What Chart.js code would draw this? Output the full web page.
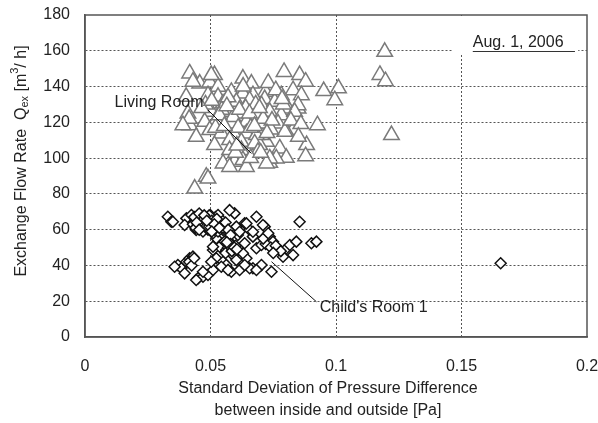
<!DOCTYPE html>
<html><head><meta charset="utf-8">
<script src="https://cdn.jsdelivr.net/npm/chart.js@4"></script>
<style>html,body{margin:0;padding:0;background:#fff}#wrap{width:598px;height:423px}</style>
</head><body><div id="wrap"><canvas id="c" width="598" height="423"></canvas></div>
<script>
const xTickLabels = ['0','0.05','0.1','0.15','0.2'];
const yTickValues = [0,20,40,60,80,100,120,140,160,180];
const seriesNames = ['Living Room', "Child's Room 1"];
const livingX = [0.1194,0.1175,0.1197,0.1221,0.101,0.0951,0.0995,0.0926,0.0883,0.0879,0.0793,0.0855,0.0879,0.0829,0.0862,0.0782,0.0719,0.0849,0.0802,0.0782,0.0829,0.0802,0.0723,0.0776,0.0802,0.0736,0.0762,0.0703,0.0696,0.0417,0.0457,0.0497,0.0516,0.053,0.0629,0.0663,0.049,0.053,0.0583,0.0629,0.0669,0.0716,0.055,0.0603,0.0656,0.0703,0.0756,0.0809,0.0849,0.041,0.0503,0.0563,0.0623,0.0689,0.0736,0.0782,0.0835,0.0417,0.0477,0.0523,0.0583,0.0643,0.0703,0.0769,0.0796,0.0443,0.0497,0.0543,0.0596,0.0643,0.0683,0.0516,0.0576,0.0623,0.0676,0.0576,0.0623,0.0689,0.0736,0.055,0.0596,0.0629,0.0643,0.0576,0.0723,0.0483,0.049,0.0437,0.043,0.0403,0.0415,0.039,0.0503,0.0545,0.059,0.061,0.066,0.071,0.074,0.057,0.064,0.068,0.048,0.052,0.063,0.073,0.076,0.079,0.082,0.086,0.085,0.06,0.066,0.07,0.0465,0.0505,0.0535,0.0565,0.0615,0.0655,0.0695,0.0745,0.0785,0.0555,0.0605,0.0675,0.0725];
const livingY = [159.4,146.5,143,112.9,139,137.5,132.4,118.4,107.3,101.1,148.2,146.4,142.7,138,135.2,135.2,137,127.7,126.8,120.3,115.7,114.7,109.1,105.4,100.2,97.4,99.8,112.9,107.3,147.3,141.7,142.3,146.4,139.9,144.5,141.7,135.2,134.3,137,136.1,135.2,133,130.5,131.5,132.4,129.6,131.5,127.7,129.6,124.9,125.9,125.9,124.9,124,125.9,124,125.9,118.4,120.3,121.2,119.4,120.3,119.4,119.4,114.7,111.9,115.7,113.8,112.9,113.8,112.9,107.3,110.1,109.1,108.2,104.5,104.5,103.5,99.8,97,97.9,98.9,95.1,95.1,97,89.6,88.6,83,142.7,134.3,122,118.4,146.4,127,123,117,117,122,116,134,128,130,130,117,140,142,138,130,121,119,112,103,100,103,128,132,124,129,127,125,128,121,133,118,107,118,114];
const childX = [0.033,0.0344,0.0404,0.0424,0.0397,0.0443,0.037,0.0384,0.0404,0.0417,0.043,0.0397,0.045,0.047,0.049,0.051,0.051,0.0536,0.0563,0.0589,0.0523,0.055,0.0583,0.0616,0.0643,0.0596,0.0576,0.0636,0.0656,0.0683,0.0603,0.0609,0.0669,0.0523,0.055,0.0589,0.0629,0.0563,0.0669,0.0703,0.044,0.045,0.046,0.047,0.048,0.049,0.05,0.051,0.052,0.053,0.046,0.047,0.049,0.051,0.053,0.055,0.054,0.056,0.057,0.043,0.048,0.05,0.052,0.045,0.058,0.047,0.05,0.044,0.035,0.053,0.0643,0.0716,0.0855,0.0669,0.0616,0.0736,0.051,0.0556,0.0583,0.0636,0.0683,0.0703,0.0749,0.0763,0.0796,0.0816,0.0842,0.0829,0.0789,0.0902,0.0922,0.0603,0.0503,0.0357,0.047,0.0443,0.0543,0.057,0.0656,0.0683,0.0743,0.0636,0.0709,0.1656,0.072,0.074,0.076,0.078,0.075,0.071,0.073,0.057,0.058,0.056,0.059,0.06,0.0435,0.0455,0.0465,0.0475,0.0485,0.0495,0.0505,0.0515,0.0525,0.0445,0.0475,0.0495,0.0515,0.0455,0.0485,0.0505,0.0535,0.0575,0.0585,0.0595,0.0565,0.0605,0.0415,0.0425,0.0435];
const childY = [67.2,64.4,66.3,68.2,62.6,59.8,40.2,38.4,42.1,44,44.9,35.6,32.8,33.7,34.7,37.5,48.6,50.5,48.6,51.4,44,42.1,36.5,37.5,44,69.1,70.9,63.6,59.8,67.2,61.7,57,56.1,55.2,59.8,45.8,46.8,40.2,38.4,40.2,66,68,65,67,64,66,63,65,62,64,61,59,60,58,59,61,66,64,60,63,62,68,67,63,57,63,61,61,64.4,68.2,63.5,61.7,64.4,58.8,58.8,56.1,50.5,53.3,48.6,52.4,49.6,51.4,53.3,49.6,48.6,51.4,53.3,45.8,44.9,52.4,53.3,43,42.1,39.3,36.5,31.9,39.3,37.5,38.4,37.5,36.5,40.2,62.6,41.2,52,50,51,48,47,55,58,50,52,47,49,51,67,69,64,66,62,68,65,60,66,64,68,62,63,60,65,59,61,51,48,50,53,49,42,40,44];

const livingPts = livingX.map((x,i)=>({x, y: livingY[i]}));
const childPts = childX.map((x,i)=>({x, y: childY[i]}));

// annotation anchors in data units
const livingLabel = {x:0.0118, y:130.8, lx1:0.049, ly1:126.9, lx2:0.0663, ly2:102.6};
const childLabel = {x:0.0935, y:16.2, lx1:0.0743, ly1:42.1, lx2:0.0922, ly2:19.7};
const dateLabel = {text:'Aug. 1, 2006', x:0.1545, y:164.3, ux1:0.1545, ux2:0.1952, uy:160, bx1:0.1462, bx2:0.1965, by:159.2};

const FONT = '"Liberation Sans", Arial, sans-serif';
const TXT = '#222';

const deco = {
  id:'deco',
  beforeDatasetsDraw(chart){
    const {ctx, chartArea:a, scales:{x,y}} = chart;
    ctx.save();
    ctx.fillStyle='#fff';
    const bx1=x.getPixelForValue(dateLabel.bx1), bx2=x.getPixelForValue(dateLabel.bx2);
    const by=y.getPixelForValue(dateLabel.by);
    ctx.fillRect(bx1, a.top+1, bx2-bx1, by-a.top);
    ctx.restore();
  },
  afterDraw(chart){
    const {ctx, chartArea:a, scales:{x,y}} = chart;
    ctx.save();
    ctx.strokeStyle='#555'; ctx.lineWidth=1.5; ctx.setLineDash([]);
    ctx.strokeRect(a.left, a.top, a.right-a.left, a.bottom-a.top);
    ctx.strokeStyle='#111'; ctx.lineWidth=1;
    ctx.beginPath();
    ctx.moveTo(x.getPixelForValue(livingLabel.lx1), y.getPixelForValue(livingLabel.ly1));
    ctx.lineTo(x.getPixelForValue(livingLabel.lx2), y.getPixelForValue(livingLabel.ly2));
    ctx.moveTo(x.getPixelForValue(childLabel.lx1), y.getPixelForValue(childLabel.ly1));
    ctx.lineTo(x.getPixelForValue(childLabel.lx2), y.getPixelForValue(childLabel.ly2));
    ctx.stroke();
    ctx.font = '16px '+FONT; ctx.fillStyle=TXT; ctx.textBaseline='middle'; ctx.textAlign='left';
    ctx.fillText(seriesNames[0], x.getPixelForValue(livingLabel.x), y.getPixelForValue(livingLabel.y));
    ctx.fillText(seriesNames[1], x.getPixelForValue(childLabel.x), y.getPixelForValue(childLabel.y));
    ctx.fillText(dateLabel.text, x.getPixelForValue(dateLabel.x), y.getPixelForValue(dateLabel.y));
    ctx.beginPath(); ctx.strokeStyle='#333'; ctx.lineWidth=1.2;
    const uy = Math.round(y.getPixelForValue(dateLabel.uy))+0.5;
    ctx.moveTo(x.getPixelForValue(dateLabel.ux1), uy);
    ctx.lineTo(x.getPixelForValue(dateLabel.ux2), uy);
    ctx.stroke();
    ctx.textAlign='center';
    ctx.fillText('Standard Deviation of Pressure Difference', 328, 389);
    ctx.fillText('between inside and outside [Pa]', 328, 411);
    ctx.translate(22, 161); ctx.rotate(-Math.PI/2);
    const parts = [
      {t:'Exchange Flow Rate  Q', f:'16px', dy:0},
      {t:'ex', f:'11px', dy:3},
      {t:' [m', f:'16px', dy:0},
      {t:'3', f:'11px', dy:-7},
      {t:'/ h]', f:'16px', dy:0}
    ];
    let total=0;
    parts.forEach(p=>{ctx.font=p.f+' '+FONT; p.w=ctx.measureText(p.t).width; total+=p.w;});
    let cx=-total/2; ctx.textAlign='left';
    parts.forEach(p=>{ctx.font=p.f+' '+FONT; ctx.fillText(p.t, cx, p.dy); cx+=p.w;});
    ctx.restore();
  }
};

const gridColor = (c)=> (c.tick && (c.index===0 || c.index===c.scale.ticks.length-1)) ? 'rgba(0,0,0,0)' : '#555';

new Chart(document.getElementById('c'), {
  type:'scatter',
  data:{datasets:[
    {label:seriesNames[0], data:livingPts, pointStyle:'triangle', pointRadius:9, pointHoverRadius:9,
     borderColor:'#7a7a7a', backgroundColor:'#fff', pointBorderWidth:1.5},
    {label:seriesNames[1], data:childPts, pointStyle:'rectRot', pointRadius:5.5, pointHoverRadius:5.5,
     borderColor:'#111', backgroundColor:'#fff', pointBorderWidth:1.5}
  ]},
  options:{
    responsive:false, animation:false, events:[],
    layout:{padding:{left:0,right:11,top:15,bottom:0}},
    plugins:{legend:{display:false}, tooltip:{enabled:false}},
    scales:{
      x:{type:'linear', min:0, max:0.2,
         afterBuildTicks(s){ s.ticks = xTickLabels.map(v=>({value:parseFloat(v)})); },
         afterFit(s){ s.height = 86; s.paddingLeft = 0; s.paddingRight = 0; },
         ticks:{padding:20, color:TXT, font:{size:16, family:FONT}, maxRotation:0,
                callback:(v,i)=>xTickLabels[i]},
         grid:{drawTicks:false, color:gridColor, lineWidth:1},
         border:{display:true, color:'#555', width:1.5, dash:[2,2]}
      },
      y:{type:'linear', min:0, max:180,
         afterBuildTicks(s){ s.ticks = yTickValues.map(v=>({value:v})); },
         afterFit(s){ s.width = 85; s.paddingTop = 0; s.paddingBottom = 0; },
         ticks:{padding:15, color:TXT, font:{size:16, family:FONT}},
         grid:{drawTicks:false, color:gridColor, lineWidth:1},
         border:{display:true, color:'#555', width:1.5, dash:[2,2]}
      }
    }
  },
  plugins:[deco]
});
</script>
</body></html>
